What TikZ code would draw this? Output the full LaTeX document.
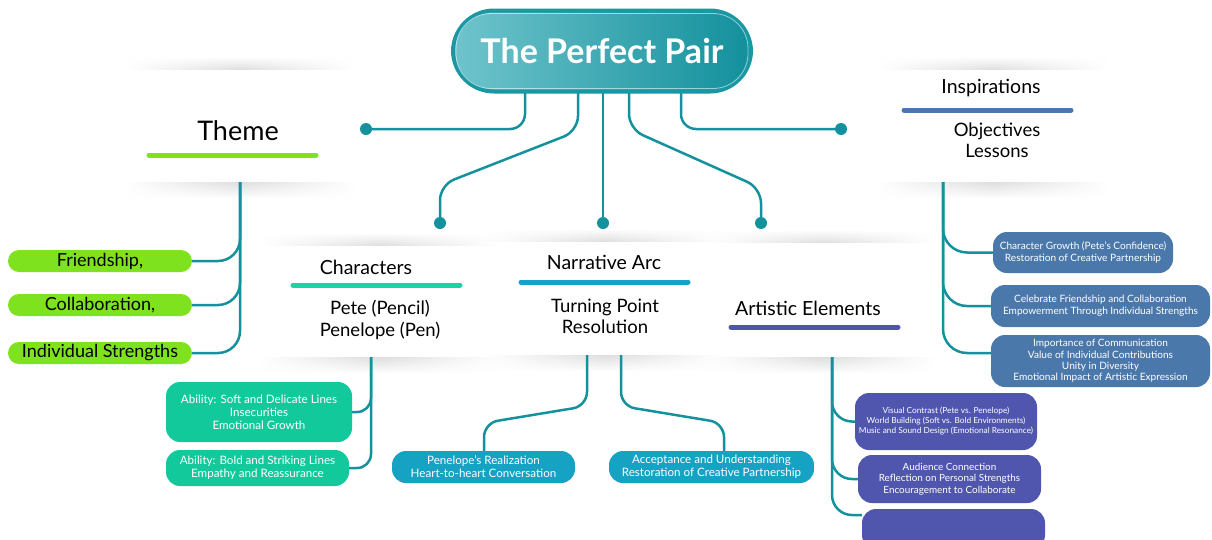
\documentclass[tikz,border=0pt]{standalone}
\usepackage{fontspec}
\setmainfont{Lato}
\usetikzlibrary{fadings}
\definecolor{conn}{RGB}{19,146,158}
\definecolor{lime}{RGB}{126,227,30}
\definecolor{mint}{RGB}{18,201,155}
\definecolor{mintline}{RGB}{27,211,164}
\definecolor{sky}{RGB}{22,162,195}
\definecolor{purp}{RGB}{80,86,174}
\definecolor{steel}{RGB}{75,120,170}
\definecolor{titleL}{RGB}{112,196,204}
\definecolor{titleR}{RGB}{18,144,156}
\definecolor{titleB}{RGB}{25,152,164}
\definecolor{shad}{RGB}{222,222,222}
\tikzfading[name=hfade, left color=transparent!100, right color=transparent!100, middle color=transparent!0]
\begin{document}
\begin{tikzpicture}[x=1pt,y=-1pt,
  conn/.style={draw=conn, line width=2.5pt},
  dot/.style={circle, fill=conn, inner sep=0pt, minimum size=12pt},
  card/.style={fill=white, inner sep=0pt},
  uline/.style={line width=5pt, line cap=round},
  head/.style={font=\fontsize{19.5}{23}\selectfont, align=center},
  sub/.style={font=\fontsize{18.5}{21.5}\selectfont, align=center},
  limepill/.style={fill=lime, rounded corners=11pt, minimum width=184pt, minimum height=22pt, inner sep=0pt, font=\fontsize{18}{20}\selectfont},
  cpill/.style={rounded corners=14pt, inner sep=0pt, align=center, text=white},
]
\useasboundingbox (0,0) rectangle (1212,539);
\fill[white] (0,0) rectangle (1212,539);

% cards
\node[card, minimum width=214pt, minimum height=112pt] (theme) at (240,126) {};
\node[card, minimum width=215pt, minimum height=112pt] (insp) at (992.5,126) {};
\node[card, minimum width=224pt, minimum height=111pt] (chars) at (380,301.5) {};
\node[card, minimum width=223pt, minimum height=113pt] (narr) at (604.5,298.5) {};
\node[card, minimum width=212pt, minimum height=114pt] (art) at (822,300) {};

% soft shadows above and below the cards
\foreach \c in {theme,insp,chars,narr,art}{
  \shade[top color=white, bottom color=shad, path fading=hfade]
    ([xshift=-6pt]\c.north west) rectangle ([xshift=6pt,yshift=13pt]\c.north east);
  \shade[top color=shad, bottom color=white, path fading=hfade]
    ([xshift=-6pt]\c.south west) rectangle ([xshift=6pt,yshift=-16pt]\c.south east);
}

% card texts
\node[font=\fontsize{27}{30}\selectfont] (themeT) at (238,131) {Theme};
\draw[uline, draw=lime] (149,155) -- (316,155);
\node[head] (inspT) at (991,88) {Inspirations};
\draw[uline, draw=steel] (904,110) -- (1071,110);
\node[sub] (inspS) at (997,140.5) {Objectives\\Lessons};
\node[head] (charT) at (366,267) {Characters};
\draw[uline, draw=mintline] (293,285) -- (460,285);
\node[sub] (charS) at (380,320) {Pete (Pencil)\\Penelope (Pen)};
\node[head] (narrT) at (604,262) {Narrative Arc};
\draw[uline, draw=sky] (521,282) -- (688,282);
\node[sub] (narrS) at (605,316.5) {Turning Point\\Resolution};
\node[head] (artT) at (808,308) {Artistic Elements};
\draw[uline, draw=purp] (731,327) -- (898,327);

% coordinates for connector starts
\coordinate (t1) at (525,85);
\coordinate (t2) at (578,85);
\coordinate (t3) at (603,85);
\coordinate (t4) at (629,85);
\coordinate (t5) at (681,85);
\coordinate (chB) at (371,357);
\coordinate (nB1) at (587,355);
\coordinate (nB2) at (621,355);
\coordinate (aB) at (832,357);
\coordinate (iB) at (943,182);

% dots
\node[dot] (d1) at (366,129) {};
\node[dot] (d2) at (440,223) {};
\node[dot] (d3) at (603,223) {};
\node[dot] (d4) at (761,223) {};
\node[dot] (d5) at (841,129) {};

% pills
\node[limepill] (fr) at (100,261) {Friendship,};
\node[limepill] (co) at (100,305) {Collaboration,};
\node[limepill] (is) at (100,353) {Individual Strengths};

\node[cpill, fill=mint, minimum width=186pt, minimum height=60pt, font=\fontsize{11.6}{13}\selectfont] (c1) at (259,412)
  {Ability: Soft and Delicate Lines\\Insecurities\\Emotional Growth};
\node[cpill, fill=mint, minimum width=183pt, minimum height=36pt, font=\fontsize{11.6}{13}\selectfont] (c2) at (257.5,468)
  {Ability: Bold and Striking Lines\\Empathy and Reassurance};

\node[cpill, fill=sky, minimum width=183pt, minimum height=32pt, font=\fontsize{11.6}{13}\selectfont] (n1) at (483.5,467)
  {Penelope's Realization\\Heart-to-heart Conversation};
\node[cpill, fill=sky, minimum width=205pt, minimum height=32pt, font=\fontsize{11.6}{13}\selectfont] (n2) at (711.5,467)
  {Acceptance and Understanding\\Restoration of Creative Partnership};

\node[cpill, fill=purp, minimum width=182pt, minimum height=57pt, font=\fontsize{8.3}{10}\selectfont] (a1) at (946,421.5)
  {Visual Contrast (Pete vs. Penelope)\\World Building (Soft vs. Bold Environments)\\Music and Sound Design (Emotional Resonance)};
\node[cpill, fill=purp, minimum width=183pt, minimum height=48pt, font=\fontsize{9.9}{11.5}\selectfont] (a2) at (949.5,479)
  {Audience Connection\\Reflection on Personal Strengths\\Encouragement to Collaborate};
\node[cpill, fill=purp, minimum width=183pt, minimum height=40pt] (a3) at (953.5,529) {};

\node[cpill, fill=steel, minimum width=180pt, minimum height=41pt, font=\fontsize{10.1}{12}\selectfont] (i1) at (1083,252.5)
  {Character Growth (Pete's Confidence)\\Restoration of Creative Partnership};
\node[cpill, fill=steel, minimum width=219pt, minimum height=42pt, font=\fontsize{10.1}{12}\selectfont] (i2) at (1100.5,306)
  {Celebrate Friendship and Collaboration\\Empowerment Through Individual Strengths};
\node[cpill, fill=steel, minimum width=219pt, minimum height=52pt, font=\fontsize{10.1}{11.3}\selectfont] (i3) at (1100.5,361)
  {Importance of Communication\\Value of Individual Contributions\\Unity in Diversity\\Emotional Impact of Artistic Expression};

% connectors
\draw[conn, rounded corners=22pt] (theme.south) |- (fr.east);
\draw[conn, rounded corners=22pt] (theme.south) |- (co.east);
\draw[conn, rounded corners=22pt] (theme.south) |- (is.east);
\draw[conn, rounded corners=14pt] (chB) |- (c1.east);
\draw[conn, rounded corners=14pt] (chB) |- (c2.east);
\draw[conn, rounded corners=14pt] (nB1) -- (587,406) -- (484,423) -- (n1.north -| 484,0);
\draw[conn, rounded corners=14pt] (nB2) -- (621,406) -- (724,423) -- (n2.north -| 724,0);
\draw[conn, rounded corners=20pt] (aB) |- (a1.west);
\draw[conn, rounded corners=20pt] (aB) |- (a2.west);
\draw[conn, rounded corners=20pt] (aB) |- (a3.west |- 0,515);
\draw[conn, rounded corners=24pt] (iB) |- (i1.west);
\draw[conn, rounded corners=24pt] (iB) |- (i2.west);
\draw[conn, rounded corners=24pt] (iB) |- (i3.west |- 0,353);

\draw[conn, rounded corners=15pt] (t1) -- (525,129) -- (d1.center);
\draw[conn, rounded corners=15pt] (t2) -- (578,131) -- (440,185) -- (d2.center);
\draw[conn] (t3) -- (d3.center);
\draw[conn, rounded corners=15pt] (t4) -- (629,129) -- (761,188) -- (d4.center);
\draw[conn, rounded corners=15pt] (t5) -- (681,129) -- (d5.center);

% title
\node[draw=titleB, line width=4pt, left color=titleL, right color=titleR,
  rounded corners=41pt, minimum width=298pt, minimum height=81pt, inner sep=0pt,
  text=white, font=\fontsize{34}{36}\bfseries\selectfont] (title) at (602,51) {The Perfect Pair};
\draw[white, opacity=0.55, line width=0.8pt, rounded corners=35pt]
  ([shift={(5,5)}]title.north west) rectangle ([shift={(-5,-5)}]title.south east);
\end{tikzpicture}
\end{document}
